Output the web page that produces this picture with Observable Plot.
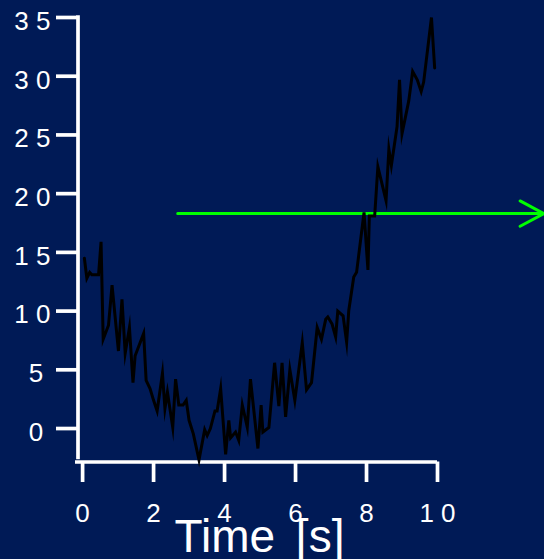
<!DOCTYPE html>
<html><head><meta charset="utf-8">
<script src="https://cdn.jsdelivr.net/npm/d3@7"></script>
<script src="https://cdn.jsdelivr.net/npm/@observablehq/plot@0.6"></script>
<style>
html,body{margin:0;padding:0;background:#001a56;overflow:hidden}
</style></head><body><div id="chart"></div>
<script>
const timeValues = [0.05,0.12,0.2,0.26,0.45,0.52,0.58,0.73,0.83,1.01,1.11,1.2,1.32,1.42,1.48,1.72,1.79,1.9,2.0,2.1,2.25,2.32,2.39,2.54,2.62,2.71,2.83,2.92,3.0,3.12,3.28,3.44,3.51,3.6,3.73,3.79,3.89,4.03,4.12,4.17,4.31,4.4,4.5,4.64,4.73,4.94,5.03,5.08,5.25,5.41,5.53,5.62,5.72,5.84,5.98,6.19,6.31,6.45,6.61,6.73,6.85,6.91,7.03,7.13,7.19,7.34,7.44,7.5,7.64,7.72,7.93,8.04,8.08,8.23,8.32,8.55,8.63,8.7,8.86,8.93,9.0,9.19,9.3,9.43,9.54,9.61,9.83,9.92];
const signalValues = [14.5,12.8,13.3,13.1,13.1,15.9,7.6,8.8,12.2,6.6,11.0,6.4,8.6,3.9,6.2,8.1,4.1,3.4,2.4,1.5,4.7,1.7,3.1,0.1,4.2,2.0,2.0,2.4,0.7,-0.45,-2.67,-0.1,-0.6,0,1.5,1.5,3.4,-2.2,0.7,-0.8,-0.3,-1.0,2.0,0.1,4.2,-1.7,2.0,-0.3,0.1,5.6,1.9,5.6,1.0,5.0,2.4,7.3,3.3,3.9,8.6,7.6,9.3,9.5,8.9,7.8,10.0,9.6,7.35,10.05,12.9,13.3,18.4,13.5,18.1,18.1,22.3,19.4,23.8,22.4,25.7,29.7,25.1,27.9,30.4,29.7,28.7,29.5,35.0,30.7];
const xTicks = [0,2,4,6,8,10];
const yTicks = [0,5,10,15,20,25,30,35];
const xDomain = [-0.2, 10];
const yDomain = [-2.85, 35];
const yAxisBottom = -2.5;
const arrowX = [2.68, 13.0];
const arrowY = [18.3, 18.3];
const xLabel = "Time [s]";

const lineData = timeValues.map((t, i) => ({t, v: signalValues[i]}));
const fmtX = d => String(d).split("").join(" ");
const fmtY = d => d < 10 ? String(d) + "\u00a0" : String(d).split("").join(" ");

const bg = "#001a56";
const fg = "white";
const fam = "'Liberation Sans', Arial, sans-serif";

const chart = Plot.plot({
  width: 544,
  height: 559,
  marginLeft: 75,
  marginRight: 107,
  marginTop: 17,
  marginBottom: 97.5,
  style: {background: bg, color: fg, fontFamily: fam, overflow: "visible"},
  x: {domain: xDomain, label: null},
  y: {domain: yDomain, label: null},
  marks: [
    Plot.ruleY([yDomain[0]], {x1: xDomain[0], x2: xDomain[1], stroke: fg, strokeWidth: 3.7}),
    Plot.ruleX([xDomain[0]], {y1: yAxisBottom, y2: yTicks[yTicks.length - 1], dx: 2.5, stroke: fg, strokeWidth: 3.7, strokeLinecap: "square"}),
    Plot.axisY(yTicks, {anchor: "left", tickSize: 21, dx: 2, fill: "none", stroke: fg, strokeWidth: 3.7, label: null}),
    Plot.axisY(yTicks, {anchor: "left", tickSize: 0, tickPadding: 25, dy: 4, fill: fg, fontSize: 26, tickFormat: fmtY, label: null}),
    Plot.axisX(xTicks, {anchor: "bottom", tickSize: 20.5, fill: "none", stroke: fg, strokeWidth: 3.7, label: null}),
    Plot.axisX(xTicks, {anchor: "bottom", tickSize: 0, tickPadding: 41.5, fill: fg, fontSize: 26, tickFormat: fmtX, label: null}),
    Plot.arrow([{x1: arrowX[0], x2: arrowX[1], y1: arrowY[0], y2: arrowY[1]}], {x1: "x1", y1: "y1", x2: "x2", y2: "y2", stroke: "#00ff00", strokeWidth: 3, headLength: 13.5, headAngle: 56}),
    Plot.line(lineData, {x: "t", y: "v", stroke: "black", strokeWidth: 3, strokeLinejoin: "miter", strokeMiterlimit: 10}),
    Plot.text([xLabel], {frameAnchor: "bottom", dy: 75, dx: 3, fill: fg, fontSize: 46, lineAnchor: "middle"})
  ]
});
d3.select(chart).selectAll("text").filter(function() { return this.textContent === xLabel; })
  .style("word-spacing", "8px");
document.getElementById("chart").appendChild(chart);
</script>
</body></html>
